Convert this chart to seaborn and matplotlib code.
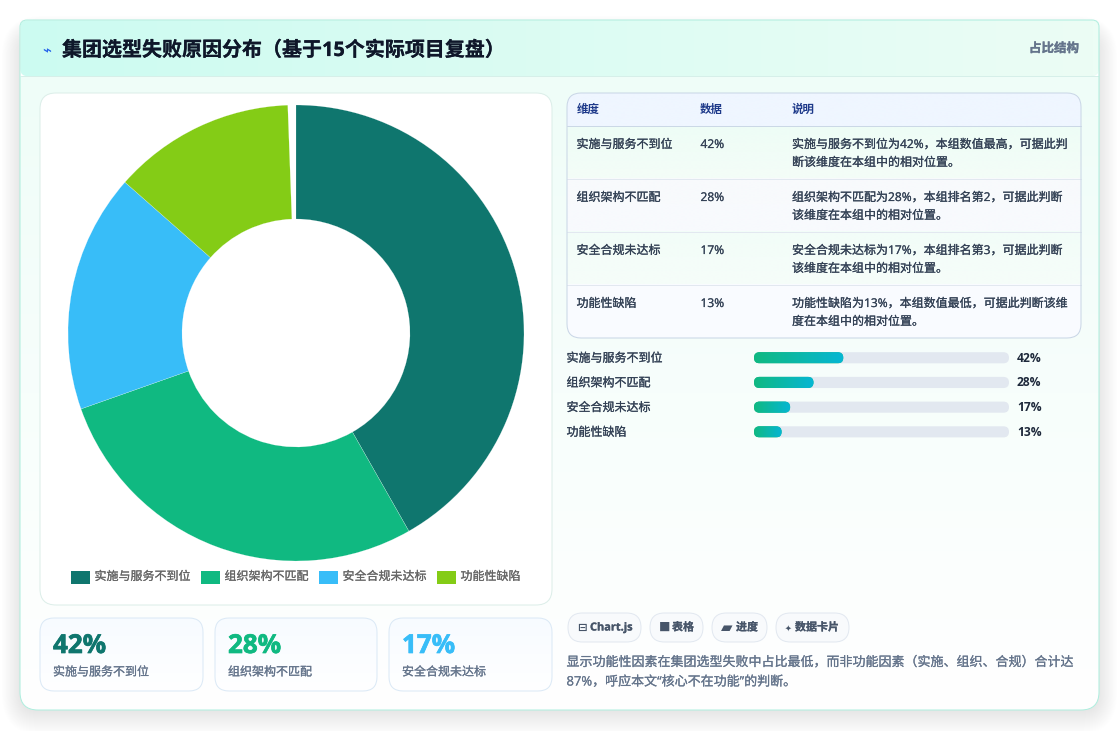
#!/usr/bin/env python3
# -*- coding: utf-8 -*-
import numpy as np
import pandas as pd
import matplotlib
matplotlib.use("Agg")
import matplotlib.pyplot as plt
import matplotlib.patheffects as pe
from matplotlib.colors import LinearSegmentedColormap
from matplotlib.patches import FancyBboxPatch, Rectangle
import seaborn as sns

categories = ['实施与服务不到位', '组织架构不匹配', '安全合规未达标', '功能性缺陷']
values = [42, 28, 17, 13]
value_labels = ['42%', '28%', '17%', '13%']
slice_colors = ['#0f766e', '#10b981', '#38bdf8', '#84cc16']
table_head = ['维度', '数据', '说明']
notes_first = ['实施与服务不到位为42%，本组数值最高，可据此判',
               '组织架构不匹配为28%，本组排名第2，可据此判断',
               '安全合规未达标为17%，本组排名第3，可据此判断',
               '功能性缺陷为13%，本组数值最低，可据此判断该维']
notes_second = ['断该维度在本组中的相对位置。',
                '该维度在本组中的相对位置。',
                '该维度在本组中的相对位置。',
                '度在本组中的相对位置。']
pie_total = 100.58   # the ring stops a little short of closing in the original
bar_max = 120

W, H = 1120, 731
sns.set_theme(style='white')
plt.rcParams['font.family'] = ['Open Sans', 'Noto Sans CJK SC', 'DejaVu Sans']

fig = plt.figure(figsize=(W / 100, H / 100), dpi=100, facecolor='white')
bg = fig.add_axes([0, 0, 1, 1], zorder=0)
bg.set_xlim(0, W)
bg.set_ylim(H, 0)
bg.axis('off')


def box(x0, y0, x1, y1, r, fc='none', ec='none', lw=0.72, z=2, alpha=None):
    p = FancyBboxPatch((x0, y0), x1 - x0, y1 - y0, boxstyle='round,pad=0,rounding_size=%s' % r,
                       fc=fc, ec=ec, lw=lw, zorder=z, alpha=alpha)
    bg.add_patch(p)
    return p


def gradient(patch, x0, y0, x1, y1, c0, c1, horizontal=False, z=2):
    cmap = LinearSegmentedColormap.from_list('g', [c0, c1])
    ramp = np.linspace(0, 1, 256)
    ramp = ramp[None, :] if horizontal else ramp[:, None]
    im = bg.imshow(ramp, extent=(x0, x1, y1, y0), cmap=cmap, aspect='auto', zorder=z, interpolation='bilinear')
    im.set_clip_path(patch)
    bg.set_xlim(0, W)
    bg.set_ylim(H, 0)


def txt(x, y, s, px, color, weight='normal', ha='left', z=6, heavy=0.15):
    t = bg.text(x, y, s, fontsize=px * 0.72, color=color, fontweight=weight, ha=ha, va='center', zorder=z)
    if heavy:
        t.set_path_effects([pe.withStroke(linewidth=heavy, foreground=color)])
    return t


# shadow
for i in range(24):
    box(20 - i * 0.8, 34 - i * 0.8, 1099 + i * 0.8, 712 + i, 18 + i, fc='black', z=1, alpha=0.0058)

# outer card, squarer at the top than at the bottom
card = box(20, 20, 1099, 710, 18, fc='white', z=2)
top_part = box(20, 20, 1099, 100, 7, fc='white', z=2)
gradient(card, 20, 76, 1099, 710, '#effdf8', '#ffffff', z=2.1)
head = box(20.5, 20.5, 1098.5, 76, 7, fc='#d5fbf0', z=2.2)
gradient(head, 20.5, 20.5, 1098.5, 76, '#ccfbf1', '#ecfdf5', horizontal=True, z=2.3)
bg.plot([21, 1098], [75.5, 75.5], color='#d6efe9', lw=0.72, zorder=2.4)
low_edge = box(20, 20, 1099, 710, 18, ec='#aeeede', z=2.5)
low_edge.set_clip_path(Rectangle((0, 60), W, H, transform=bg.transData))
high_edge = box(20, 20, 1099, 100, 7, ec='#aeeede', z=2.5)
high_edge.set_clip_path(Rectangle((0, 0), W, 60, transform=bg.transData))

txt(42, 51, '⌁', 15, '#2563eb', 'bold', heavy=0)
txt(62, 51, '集团选型失败原因分布（基于15个实际项目复盘）', 20, '#0f172a', 'bold')
txt(1079, 48.5, '占比结构', 12.5, '#64748b', 'bold', ha='right', heavy=0.2)

# donut card
box(40, 93, 552, 605, 16, fc='white', ec='#dceee9', z=3)
ax_pie = fig.add_axes([68 / W, 1 - 561 / H, 456 / W, 456 / H], zorder=2)
ax_pie.patch.set_alpha(0)
ax_pie.pie([v / pie_total for v in values], colors=slice_colors, startangle=90, counterclock=False,
           normalize=False, radius=1, wedgeprops={'width': 0.5, 'edgecolor': 'white', 'linewidth': 0.12})
ax_pie.set_xlim(-1, 1)
ax_pie.set_ylim(-1, 1)

# legend
for x, name, c in zip([71, 201, 319, 437], categories, slice_colors):
    bg.add_patch(Rectangle((x, 571), 19, 12.5, fc=c, ec='none', zorder=4))
    txt(x + 23.5, 576.5, name, 12, '#666666')

# kpi cards
for (x0, x1), name, lab, c in zip([(40, 203), (215, 377), (389, 552)], categories, value_labels, slice_colors):
    k = box(x0, 618, x1, 691, 14, fc='#fbfdff', z=3)
    gradient(k, x0, 618, x1, 691, '#f7fbff', '#ffffff', z=3.1)
    box(x0, 618, x1, 691, 14, ec='#dbe9f6', z=3.2)
    txt(x0 + 13, 645.5, lab, 26, c, 'bold', heavy=0.5)
    txt(x0 + 13, 672, name, 12, '#64748b')

# table
table = box(567, 93, 1081, 338, 14, fc='#f8fafc', z=3)
for y0, y1, c0, c1 in [(93, 126, '#eff6ff', '#eff6ff'), (126, 178, '#eefdf6', '#f4fdf8'),
                       (178, 231, '#f8fafc', '#f8fafe'), (231, 284, '#f2fdf8', '#f6fdfa'),
                       (284, 338, '#f9fbff', '#fafcff')]:
    gradient(table, 567, y0, 1081, y1, c0, c1, z=3.1)
for y, c in [(125.5, '#cbd8e6'), (178.5, '#e2e8f0'), (231.5, '#e2e8f0'), (284.5, '#e2e8f0')]:
    bg.plot([567, 1081], [y, y], color=c, lw=0.72, zorder=3.3)
box(567, 93, 1081, 338, 14, ec='#c9d6e6', z=3.4)
for x, s in zip([576.5, 700, 792], table_head):
    txt(x, 110, s, 11.5, '#1e3a8a', 'bold', heavy=0)
for i, (name, lab, n1, n2) in enumerate(zip(categories, value_labels, notes_first, notes_second)):
    y = 144.5 + i * 53
    txt(576.5, y, name, 12, '#334155')
    txt(700.5, y, lab, 12, '#334155')
    txt(792, y, n1, 12, '#334155')
    txt(792, y + 18, n2, 12, '#334155')

# progress bars
df = pd.DataFrame({'category': categories, 'value': values})
top, step = 357.8 - 12.4, 24.7
ax_bar = fig.add_axes([754 / W, 1 - (top + 4 * step) / H, 255 / W, 4 * step / H], zorder=1)
sns.barplot(data=df, y='category', x='value', width=0.45, color='#10b981', ax=ax_bar)
ax_bar.set_xlim(0, bar_max)
ax_bar.axis('off')
ax_bar.patch.set_alpha(0)
to_bg = ax_bar.transData + bg.transData.inverted()
for i, bar in enumerate(ax_bar.patches):
    (x0, y0), (x1, y1) = to_bg.transform([(0, bar.get_y()), (bar.get_width(), bar.get_y() + bar.get_height())])
    (tx, _) = to_bg.transform((bar_max, 0))
    y0, y1 = min(y0, y1), max(y0, y1)
    box(x0, y0, tx, y1, (y1 - y0) / 2, fc='#e2e8f0', z=3)
    fill = box(x0, y0, x1, y1, (y1 - y0) / 2, fc='#10b981', z=3.1)
    gradient(fill, x0, y0, x1, y1, '#10b981', '#06b6d4', horizontal=True, z=3.2)
    bar.set_visible(False)
    txt(566.5, (y0 + y1) / 2 + 0.5, categories[i], 12, '#334155')
    txt(1017, (y0 + y1) / 2 + 0.5, value_labels[i], 12, '#1e293b', 'bold', heavy=0)

# pills
pills = [(568, 641, 577, '⊟', 11.5, 590, 'Chart.js'), (650, 703, 659, '■', 11.5, 672, '表格'),
         (712, 767, 721, '▰', 15, 736, '进度'), (776, 849, 785, '✦', 8, 795, '数据卡片')]
for x0, x1, ix, icon, isize, tx, s in pills:
    box(x0, 613, x1, 642, 14.5, fc='#f8fafc', ec='#e2e8f0', z=3)
    txt(ix, 628, icon, isize, '#475569', 'bold', heavy=0)
    txt(tx, 628, s, 11, '#475569', 'bold', heavy=0.15)

txt(566.5, 662.5, '显示功能性因素在集团选型失败中占比最低，而非功能因素（实施、组织、合规）合计达', 13, '#64748b')
txt(566.5, 682, '87%，呼应本文“核心不在功能”的判断。', 13, '#64748b')

plt.savefig('out.png', dpi=100)
